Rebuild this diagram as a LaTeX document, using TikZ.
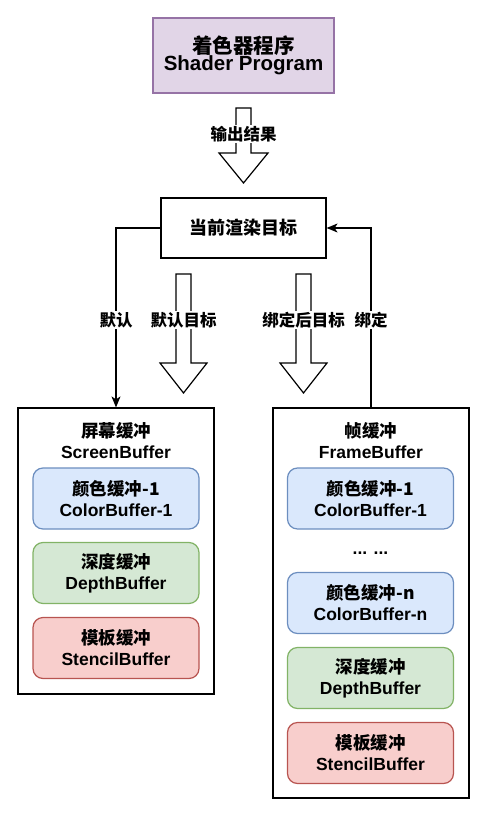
\documentclass[tikz,border=0pt]{standalone}
\usepackage{fontspec}
\setmainfont{Liberation Sans}
\newfontfamily\cjk{Noto Sans CJK SC}
\usetikzlibrary{arrows.meta}
\definecolor{pfill}{HTML}{E1D5E7}\definecolor{pdraw}{HTML}{9673A6}
\definecolor{bfill}{HTML}{DAE8FC}\definecolor{bdraw}{HTML}{6C8EBF}
\definecolor{gfill}{HTML}{D5E8D4}\definecolor{gdraw}{HTML}{82B366}
\definecolor{rfill}{HTML}{F8CECC}\definecolor{rdraw}{HTML}{B85450}
\tikzset{
  lw/.style={line width=1.2pt},
  plain/.style={lw, draw=black, rectangle, inner sep=0pt},
  buf/.style={lw, rectangle, rounded corners=10pt, inner sep=0pt, align=center,
     minimum width=166pt, minimum height=61pt, font=\bfseries\fontsize{17.5}{21}\selectfont},
  blue/.style={buf, fill=bfill, draw=bdraw},
  green/.style={buf, fill=gfill, draw=gdraw},
  red/.style={buf, fill=rfill, draw=rdraw},
  lbl/.style={fill=white, inner sep=1pt, font=\cjk\bfseries\fontsize{16.5}{19}\selectfont},
  blockarrow/.style={lw, draw=black, fill=white, line join=miter},
  conn/.style={lw, -{Stealth[length=11pt,width=9pt,inset=3pt]}}
}
\begin{document}
\begin{tikzpicture}[x=1pt,y=-1pt]
\useasboundingbox (0,0) rectangle (489,818);
% shader
\node[lw, draw=pdraw, fill=pfill, minimum width=181pt, minimum height=75pt, inner sep=0pt, align=center]
  (shader) at (243.5,55.5) {{\cjk\bfseries\fontsize{20.5}{25}\selectfont 着色器程序}\\[-1pt]{\bfseries\fontsize{20.5}{25}\selectfont Shader Program}};
% block arrow 1
\draw[blockarrow] (236,108) -- (251,108) -- (251,153) -- (268,153) -- (243.5,183) -- (219,153) -- (236,153) -- cycle;
\node[lbl] (out) at (243.5,134) {输出结果};
% current target
\node[plain, minimum width=165pt, minimum height=60pt, font=\cjk\bfseries\fontsize{18}{21}\selectfont] (cur) at (243.5,228) {当前渲染目标};
% screen buffer container
\node[plain, minimum width=196pt, minimum height=286pt] (screen) at (116,551) {};
\node[align=center, font=\bfseries\fontsize{17.5}{21}\selectfont] (stitle) at (116,441)
  {{\cjk 屏幕缓冲}\\ScreenBuffer};
\node[blue] (s1) at (116,498.5) {{\cjk 颜色缓冲-1}\\ColorBuffer-1};
\node[green] (s2) at (116,573) {{\cjk 深度缓冲}\\DepthBuffer};
\node[red] (s3) at (116,648) {{\cjk 模板缓冲}\\StencilBuffer};
% frame buffer container
\node[plain, minimum width=196pt, minimum height=390pt] (frame) at (371,603) {};
\node[align=center, font=\bfseries\fontsize{17.5}{21}\selectfont] (ftitle) at (371,441)
  {{\cjk 帧缓冲}\\FrameBuffer};
\node[blue] (f1) at (370.5,498.5) {{\cjk 颜色缓冲-1}\\ColorBuffer-1};
\node[font=\bfseries\fontsize{17.5}{21}\selectfont] (dots) at (370.5,553) {... ...};
\node[blue] (fn) at (370.5,603) {{\cjk 颜色缓冲-n}\\ColorBuffer-n};
\node[green] (f2) at (370.5,678) {{\cjk 深度缓冲}\\DepthBuffer};
\node[red] (f3) at (370.5,753) {{\cjk 模板缓冲}\\StencilBuffer};
% connectors
\draw[conn] (cur.west) -| (screen.north);
\node[lbl] (l1) at (116,320) {默认};
\draw[conn] (frame.north) |- (cur.east);
\node[lbl] (l2) at (371,320) {绑定};
% block arrows 2,3
\draw[blockarrow] (176,274) -- (191,274) -- (191,363) -- (207,363) -- (183.5,393) -- (160,363) -- (176,363) -- cycle;
\node[lbl] (l3) at (183.5,320) {默认目标};
\draw[blockarrow] (296,274) -- (311,274) -- (311,363) -- (327,363) -- (303.5,393) -- (280,363) -- (296,363) -- cycle;
\node[lbl] (l4) at (303.5,320) {绑定后目标};
\end{tikzpicture}
\end{document}
